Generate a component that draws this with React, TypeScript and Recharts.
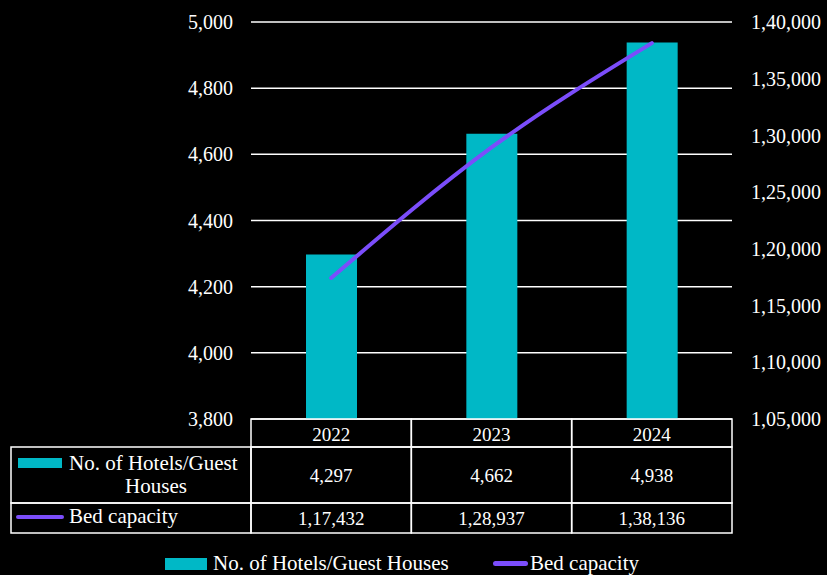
import React from 'react';
import { ComposedChart, Bar, Line, XAxis, YAxis, CartesianGrid, Legend } from 'recharts';

const years = ['2022', '2023', '2024'];
const hotels = [4297, 4662, 4938];
const beds = [117432, 128937, 138136];
const leftTicks = [3800, 4000, 4200, 4400, 4600, 4800, 5000];
const rightTicks = [105000, 110000, 115000, 120000, 125000, 130000, 135000, 140000];

const HOTEL_NAME = 'No. of Hotels/Guest Houses';
const BED_NAME = 'Bed capacity';

const CYAN = '#00B8C6';
const PURPLE = '#7B4DFB';
const FONT = "Liberation Serif, Times New Roman, serif";

const data = years.map((y, i) => ({ year: y, hotels: hotels[i], beds: beds[i] }));

function fmtIN(n: number): string {
  const s = String(Math.round(n));
  const last3 = s.slice(-3);
  const rest = s.slice(0, -3);
  if (!rest) return last3;
  return rest.replace(/\B(?=(\d{2})+(?!\d))/g, ',') + ',' + last3;
}

const W = 827;
const H = 575;
const LEFT_W = 251;
const RIGHT_W = 95;
const BAND = (W - LEFT_W - RIGHT_W) / years.length;
const TABLE_LEFT = 11;
const HEAD_H = 28;
const ROW1_H = 56;
const ROW2_H = 30;

const TableTick = (props: any) => {
  const { x, y, payload } = props;
  const i = payload.index;
  const x0 = x - BAND / 2;
  const stroke = '#ffffff';
  const sw = 1.5;
  const txt = { fill: '#fff', fontFamily: FONT, fontSize: 19, textAnchor: 'middle' as const, dominantBaseline: 'central' as const };
  return (
    <g>
      <rect x={x0} y={y} width={BAND} height={HEAD_H} fill="none" stroke={stroke} strokeWidth={sw} />
      <rect x={x0} y={y + HEAD_H} width={BAND} height={ROW1_H} fill="none" stroke={stroke} strokeWidth={sw} />
      <rect x={x0} y={y + HEAD_H + ROW1_H} width={BAND} height={ROW2_H} fill="none" stroke={stroke} strokeWidth={sw} />
      <text x={x} y={y + HEAD_H / 2 + 1} {...txt}>{payload.value}</text>
      <text x={x} y={y + HEAD_H + ROW1_H / 2} {...txt}>{fmtIN(hotels[i])}</text>
      <text x={x} y={y + HEAD_H + ROW1_H + ROW2_H / 2} {...txt}>{fmtIN(beds[i])}</text>
      {i === 0 && (
        <g>
          <rect x={TABLE_LEFT} y={y + HEAD_H} width={x0 - TABLE_LEFT} height={ROW1_H} fill="none" stroke={stroke} strokeWidth={sw} />
          <rect x={TABLE_LEFT} y={y + HEAD_H + ROW1_H} width={x0 - TABLE_LEFT} height={ROW2_H} fill="none" stroke={stroke} strokeWidth={sw} />
          <rect x={18} y={y + HEAD_H + 11} width={44} height={10} fill={CYAN} />
          <text x={69} y={y + HEAD_H + 16} fill="#fff" fontFamily={FONT} fontSize={21} dominantBaseline="central">No. of Hotels/Guest</text>
          <text x={156} y={y + HEAD_H + 39} fill="#fff" fontFamily={FONT} fontSize={21} textAnchor="middle" dominantBaseline="central">Houses</text>
          <line x1={18} x2={62} y1={y + HEAD_H + ROW1_H + 14} y2={y + HEAD_H + ROW1_H + 14} stroke={PURPLE} strokeWidth={4} strokeLinecap="round" />
          <text x={69} y={y + HEAD_H + ROW1_H + 13} fill="#fff" fontFamily={FONT} fontSize={21} dominantBaseline="central">Bed capacity</text>
        </g>
      )}
    </g>
  );
};

const LegendContent = () => (
  <div style={{ height: 42, width: W, position: 'relative', fontFamily: FONT, fontSize: 21, color: '#fff' }}>
    <div style={{ position: 'absolute', left: 165, top: 25, width: 42, height: 12, background: CYAN }} />
    <div style={{ position: 'absolute', left: 213, top: 19, lineHeight: '22px', whiteSpace: 'nowrap' }}>{HOTEL_NAME}</div>
    <div style={{ position: 'absolute', left: 493, top: 28, width: 35, height: 5, borderRadius: 3, background: PURPLE }} />
    <div style={{ position: 'absolute', left: 530, top: 19, lineHeight: '22px', whiteSpace: 'nowrap' }}>{BED_NAME}</div>
  </div>
);

export default function App() {
  return (
    <div style={{ position: 'absolute', left: 0, top: 0, width: W, height: H, background: '#000' }}>
      <ComposedChart width={W} height={H} data={data} margin={{ top: 22, right: 0, bottom: 0, left: 0 }}>
        <CartesianGrid yAxisId="left" vertical={false} horizontal stroke="#ffffff" strokeWidth={1.5} />
        <XAxis
          dataKey="year"
          height={114}
          axisLine={false}
          tickLine={false}
          tickSize={0}
          tickMargin={0}
          interval={0}
          tick={<TableTick />}
        />
        <YAxis
          yAxisId="left"
          orientation="left"
          width={LEFT_W}
          domain={[3800, 5000]}
          ticks={leftTicks}
          axisLine={false}
          tickLine={false}
          tickSize={0}
          tickMargin={18}
          tickFormatter={fmtIN}
          tick={{ fill: '#fff', fontFamily: FONT, fontSize: 20 }}
        />
        <YAxis
          yAxisId="right"
          orientation="right"
          width={RIGHT_W}
          domain={[105000, 140000]}
          ticks={rightTicks}
          axisLine={false}
          tickLine={false}
          tickSize={0}
          tickMargin={19}
          tickFormatter={fmtIN}
          tick={{ fill: '#fff', fontFamily: FONT, fontSize: 20 }}
        />
        <Legend verticalAlign="bottom" height={42} content={<LegendContent />} wrapperStyle={{ left: 0, width: W }} />
        <Bar yAxisId="left" dataKey="hotels" name={HOTEL_NAME} fill={CYAN} barSize={51} isAnimationActive={false} />
        <Line yAxisId="right" dataKey="beds" name={BED_NAME} type="monotone" stroke={PURPLE} strokeWidth={4} strokeLinecap="round" dot={false} activeDot={false} isAnimationActive={false} />
      </ComposedChart>
    </div>
  );
}
